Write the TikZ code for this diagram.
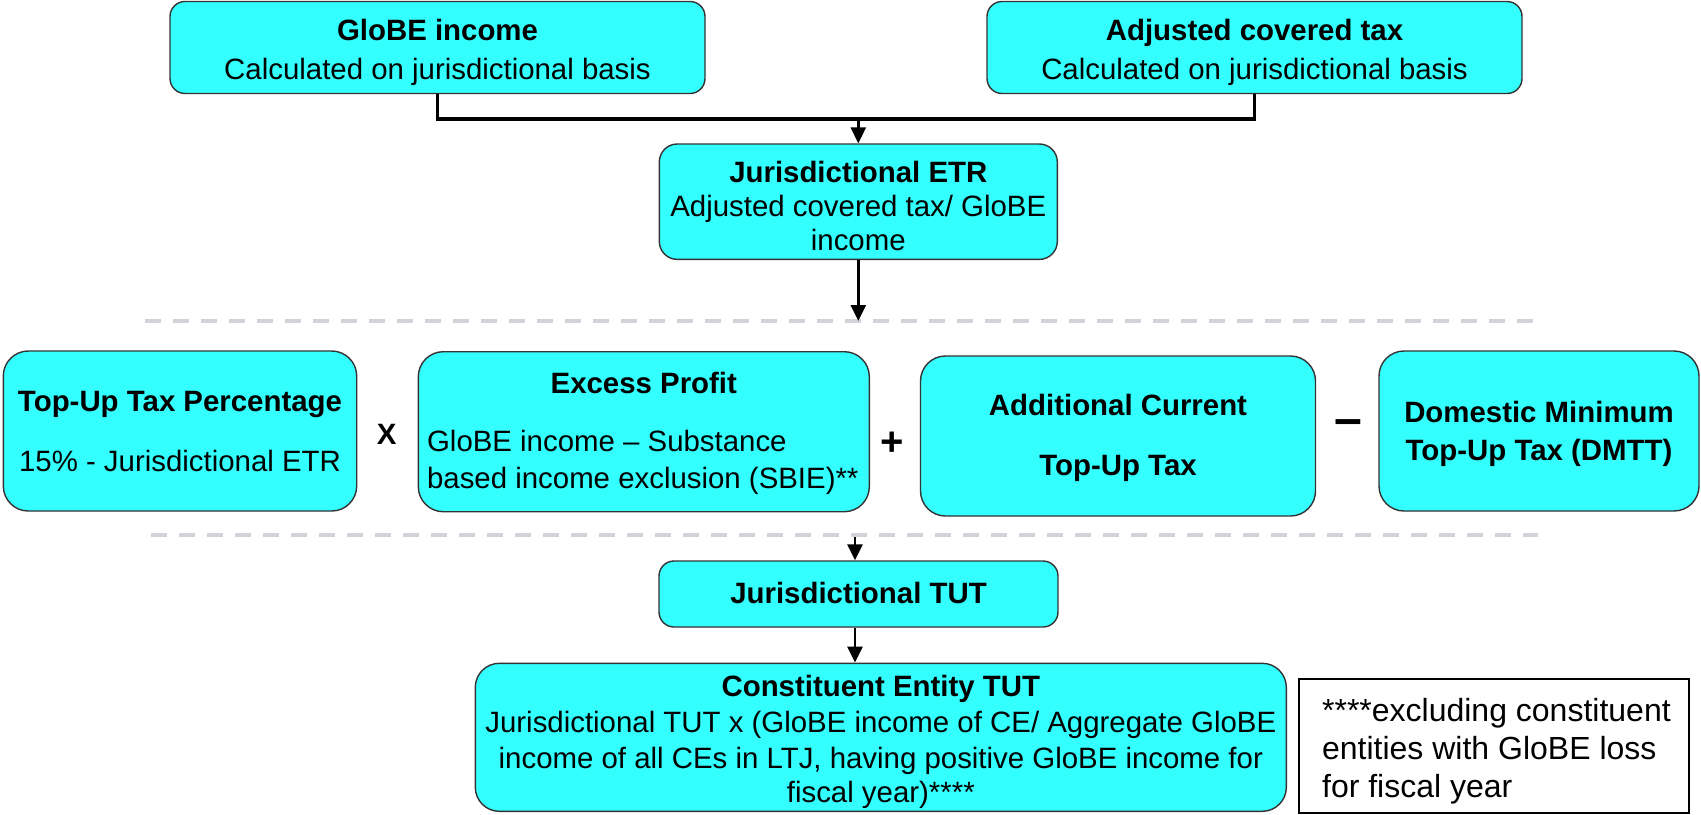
\documentclass[tikz,border=0pt]{standalone}
\usepackage{fontspec}
\setmainfont{Liberation Sans}
\usetikzlibrary{arrows.meta}
\definecolor{boxcyan}{RGB}{51,255,255}
\definecolor{sepgray}{RGB}{210,210,218}
\newcommand\txt{\fontsize{14.7}{17}\selectfont}
\begin{document}
\begin{tikzpicture}[x=0.5pt,y=-0.5pt,
  box/.style={draw=black!80, line width=0.7pt, fill=boxcyan,
    rounded corners=#1, inner sep=0pt},
  box/.default=7.5pt,
  tl/.style={inner sep=0pt, anchor=base, font=\txt},
  tlw/.style={tl, anchor=base west},
  link/.style={line width=1.4pt, -{Triangle[length=8pt,width=7.5pt]}},
  joinline/.style={line width=1.6pt},
  sepline/.style={line width=2.2pt, sepgray, dash pattern=on 8pt off 6pt},
  op/.style={inner sep=0pt, font=\bfseries#1},
  note/.style={draw=black, line width=1pt, fill=white, inner sep=0pt},
  notetext/.style={inner sep=0pt, anchor=base west, font=\fontsize{16}{19}\selectfont}]
\useasboundingbox (0,0) rectangle (1701,814);

% top row: the two inputs
\node[box, minimum width=267.5pt, minimum height=46pt] (globe) at (437.5,47.5) {};
\node[tl] (globe-t) at (437.5,40.7) {\textbf{GloBE income}};
\node[tl] (globe-s) at (437.5,79.3) {Calculated on jurisdictional basis};

\node[box, minimum width=267.5pt, minimum height=46pt] (act) at (1254.5,47.5) {};
\node[tl] (act-t) at (1254.5,40.7) {\textbf{Adjusted covered tax}};
\node[tl] (act-s) at (1254.5,79.3) {Calculated on jurisdictional basis};

% effective tax rate
\node[box=9pt, minimum width=199pt, minimum height=57.7pt] (etr) at (858.3,201.7) {};
\node[tl] (etr-t) at (858.3,182.7) {\textbf{Jurisdictional ETR}};
\node[tl] (etr-1) at (858.3,216.7) {Adjusted covered tax/ GloBE};
\node[tl] (etr-2) at (858.3,250.7) {income};

\coordinate (j) at (858.3,119);
\draw[joinline] (globe.south) |- (j) -| (act.south);
\draw[link] (j) -- (etr.north);

% separators
\coordinate (sepAl) at (145,321);
\coordinate (sepAr) at (1533,321);
\coordinate (sepBl) at (151,535);
\coordinate (sepBr) at (1538,535);
\draw[sepline] (sepAl) -- (sepAr);
\draw[sepline] (sepBl) -- (sepBr);
\coordinate (sepA) at (858.3,321);
\coordinate (sepB) at (855,537);
\draw[link] (etr.south) -- (sepA);

% formula row
\node[box=12.5pt, minimum width=176.7pt, minimum height=80pt] (topup) at (180,431) {};
\node[tl] (topup-t) at (180,411) {\textbf{Top-Up Tax Percentage}};
\node[tl] (topup-s) at (180,471) {15\% - Jurisdictional ETR};

\node[op=\fontsize{14.7}{17}\selectfont] (times) at (386.7,434.7) {X};

\node[box=12.5pt, minimum width=225.5pt, minimum height=80pt] (excess) at (643.8,431.7) {};
\node[tl] (excess-t) at (643.8,393.3) {\textbf{Excess Profit}};
\node[tlw] (excess-1) at (426.7,451.7) {GloBE income – Substance};
\node[tlw] (excess-2) at (426.7,488.3) {based income exclusion (SBIE)**};

\node[op=\fontsize{20}{22}\selectfont] (plus) at (892,444) {+};

\node[box=12.5pt, minimum width=197.5pt, minimum height=80pt] (addl) at (1118,436) {};
\node[tl] (addl-t) at (1118,415.6) {\textbf{Additional Current}};
\node[tl] (addl-s) at (1118,475) {\textbf{Top-Up Tax}};

\node[op=\fontsize{25}{27}\selectfont] (minus) at (1348,427.3) {–};

\node[box=12.5pt, minimum width=160pt, minimum height=80pt] (dmtt) at (1539,431) {};
\node[tl] (dmtt-t) at (1539,422.3) {\textbf{Domestic Minimum}};
\node[tl] (dmtt-s) at (1539,460) {\textbf{Top-Up Tax (DMTT)}};

% top-up tax results
\node[box, minimum width=199.5pt, minimum height=33pt] (tut) at (858.5,594) {};
\node[tl] (tut-t) at (858.5,603) {\textbf{Jurisdictional TUT}};

\node[box=12pt, minimum width=405.5pt, minimum height=74pt] (ce) at (880.8,737.3) {};
\node[tl] (ce-t) at (880.8,696.7) {\textbf{Constituent Entity TUT}};
\node[tl] (ce-1) at (880.8,732.7) {Jurisdictional TUT x (GloBE income of CE/ Aggregate GloBE};
\node[tl] (ce-2) at (880.8,768.3) {income of all CEs in LTJ, having positive GloBE income for};
\node[tl] (ce-3) at (880.8,802.7) {fiscal year)****};

\draw[link] (sepB) -- (tut.north -| sepB);
\draw[link] (tut.south -| sepB) -- (ce.north -| sepB);

% footnote
\node[note, minimum width=194.8pt, minimum height=66.8pt] (fn) at (1494.2,746.1) {};
\node[notetext] (fn-1) at (1321.7,721.5) {****excluding constituent};
\node[notetext] (fn-2) at (1321.7,759.5) {entities with GloBE loss};
\node[notetext] (fn-3) at (1321.7,797.5) {for fiscal year};
\end{tikzpicture}
\end{document}
